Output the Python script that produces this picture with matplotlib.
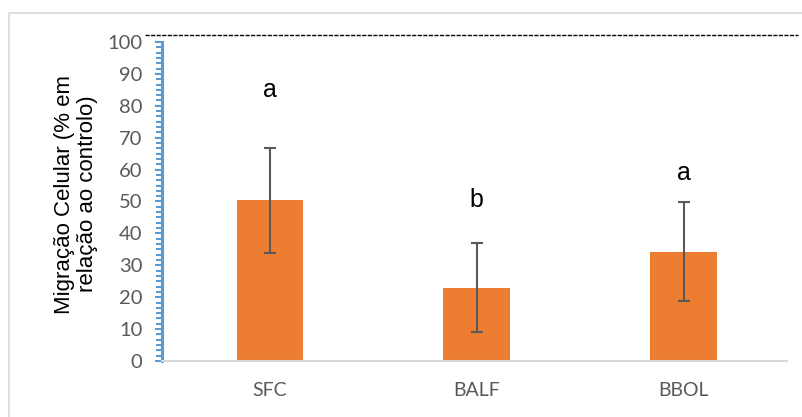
import matplotlib
matplotlib.use('Agg')
import matplotlib.pyplot as plt
from matplotlib.lines import Line2D
from matplotlib.ticker import MultipleLocator

# migration values (% of control) with standard deviation
categories = ['SFC', 'BALF', 'BBOL']
means = [50.4, 23.0, 34.2]
errors = [16.4, 13.9, 15.5]
letters = ['a', 'b', 'a']
letter_y = [82.8, 48.3, 56.7]

W, H = 803, 417
fig = plt.figure(figsize=(W / 100, H / 100), dpi=100)
ax = fig.add_axes([162 / W, 1 - 361 / H, (787 - 162) / W, (361 - 42) / H])

x = list(range(len(categories)))
ax.bar(x, means, width=0.32, color='#ED7D31', zorder=2)
ax.errorbar(x, means, yerr=errors, fmt='none', ecolor='#595959',
            elinewidth=1.5, capsize=4.3, capthick=1.5, zorder=3)

for xi, s, ly in zip(x, letters, letter_y):
    ax.text(xi, ly, s, ha='center', va='baseline', fontsize=18,
            family='Liberation Sans', color='black')

ax.set_xlim(-0.52, 2.5)
ax.set_ylim(0, 100)
ax.yaxis.set_major_locator(MultipleLocator(10))
ax.yaxis.set_minor_locator(MultipleLocator(10 / 6))
ax.set_xticks(x)
ax.set_xticklabels(categories)

for side in ['top', 'right']:
    ax.spines[side].set_visible(False)
ax.spines['left'].set_color('#5B9BD5')
ax.spines['left'].set_linewidth(2.2)
ax.spines['bottom'].set_color('#D9D9D9')
ax.spines['bottom'].set_linewidth(1.5)

ax.tick_params(axis='y', which='major', length=5, width=1.5, color='#5B9BD5',
               labelsize=14.5, labelcolor='#595959', pad=9)
ax.tick_params(axis='y', which='minor', length=4, width=1.5, color='#5B9BD5')
ax.tick_params(axis='x', length=0, labelsize=14, labelcolor='#595959', pad=15)
for lab in ax.get_xticklabels() + ax.get_yticklabels():
    lab.set_family('Lato')

fig.text(76 / W, 1 - 194 / H, 'Migração Celular (% em\nrelação ao controlo)',
         rotation=90, ha='center', va='center', multialignment='center',
         fontsize=16, linespacing=1.1, family='Liberation Sans', color='black')

# reference line above the plot area
fig.add_artist(Line2D([145 / W, 798 / W], [1 - 35 / H, 1 - 35 / H],
                      transform=fig.transFigure, color='black', lw=1,
                      linestyle=(0, (3, 1))))

# chart area border (top and left edges)
fig.add_artist(Line2D([9 / W, 9 / W, 1.0], [0.0, 1 - 13 / H, 1 - 13 / H],
                      transform=fig.transFigure, color='#D9D9D9', lw=1.2))

fig.savefig('out.png', dpi=100)
